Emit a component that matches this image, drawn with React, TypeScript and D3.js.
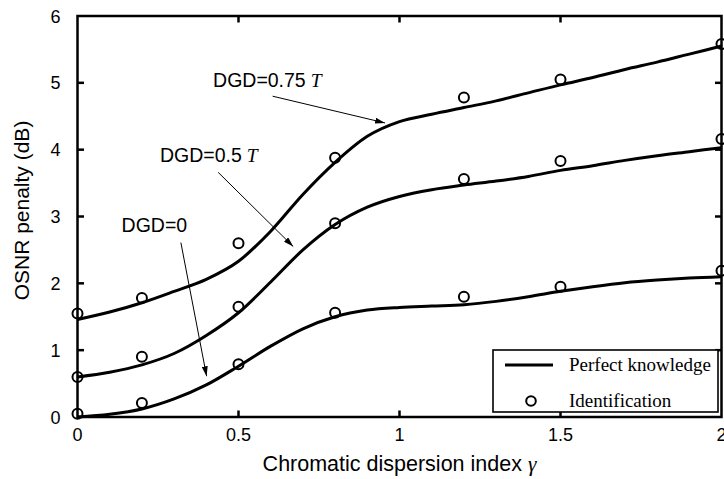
import React from "react";
import * as d3 from "d3";

const gridX = [0, 0.1, 0.2, 0.3, 0.4, 0.5, 0.6, 0.7, 0.8, 0.9, 1.0, 1.1, 1.2, 1.3, 1.4, 1.5, 1.6, 1.7, 1.8, 1.9, 2.0];
const perfectDGD0 = [0, 0.04, 0.12, 0.27, 0.48, 0.76, 1.06, 1.32, 1.5, 1.6, 1.64, 1.66, 1.68, 1.73, 1.8, 1.88, 1.95, 2.01, 2.05, 2.08, 2.1];
const perfectDGD05 = [0.6, 0.67, 0.78, 0.95, 1.22, 1.56, 2.02, 2.5, 2.88, 3.14, 3.3, 3.4, 3.47, 3.53, 3.6, 3.69, 3.76, 3.84, 3.91, 3.97, 4.03];
const perfectDGD075 = [1.46, 1.57, 1.71, 1.88, 2.06, 2.33, 2.78, 3.33, 3.81, 4.2, 4.42, 4.53, 4.63, 4.73, 4.85, 4.97, 5.08, 5.2, 5.31, 5.43, 5.55];

const idX = [0, 0.2, 0.5, 0.8, 1.2, 1.5, 2.0];
const idDGD0 = [0.05, 0.21, 0.79, 1.56, 1.8, 1.95, 2.19];
const idDGD05 = [0.6, 0.9, 1.65, 2.9, 3.56, 3.83, 4.16];
const idDGD075 = [1.55, 1.78, 2.6, 3.88, 4.78, 5.05, 5.58];

const xTicks = [0, 0.5, 1, 1.5, 2];
const xTickLabels = ["0", "0.5", "1", "1.5", "2"];
const yTicks = [0, 1, 2, 3, 4, 5, 6];

const annotations = [
  { label: "DGD=0.75", italic: "T", tx: 0.421, ty: 4.94, x1: 0.606, y1: 4.8, x2: 0.955, y2: 4.4 },
  { label: "DGD=0.5", italic: "T", tx: 0.256, ty: 3.82, x1: 0.437, y1: 3.66, x2: 0.67, y2: 2.55 },
  { label: "DGD=0", italic: "", tx: 0.137, ty: 2.77, x1: 0.321, y1: 2.61, x2: 0.401, y2: 0.61 },
];

const legendItems = ["Perfect knowledge", "Identification"];

const W = 724;
const H = 479;
const left = 77.5;
const right = 721.5;
const top = 16;
const bottom = 417;

export default function App() {
  const x = d3.scaleLinear().domain([0, 2]).range([left, right]);
  const y = d3.scaleLinear().domain([0, 6]).range([bottom, top]);
  const line = d3
    .line<number>()
    .x((_, i) => x(gridX[i]))
    .y((d) => y(d))
    .curve(d3.curveMonotoneX);

  const curves = [perfectDGD0, perfectDGD05, perfectDGD075];
  const ids = [idDGD0, idDGD05, idDGD075];
  const sans = "'Liberation Sans', Arial, sans-serif";
  const serif = "'Liberation Serif', 'Times New Roman', serif";
  const tickLen = 6.5;

  return (
    <svg width={W} height={H} style={{ position: "absolute", left: 0, top: 0, background: "#fff" }}>
      <defs>
        <marker id="ah" viewBox="0 0 10 6" refX="10" refY="3" markerWidth="10" markerHeight="6" markerUnits="userSpaceOnUse" orient="auto">
          <path d="M0,0 L10,3 L0,6 Z" fill="#000" />
        </marker>
      </defs>
      <rect x={0} y={0} width={W} height={H} fill="#fff" />

      {curves.map((c, k) => (
        <path key={k} d={line(c) || ""} fill="none" stroke="#000" strokeWidth={3} />
      ))}
      {ids.map((s, k) =>
        s.map((v, i) => (
          <circle key={k + "-" + i} cx={x(idX[i])} cy={y(v)} r={5} fill="none" stroke="#000" strokeWidth={2} />
        ))
      )}

      {annotations.map((a, i) => (
        <g key={i}>
          <line x1={x(a.x1)} y1={y(a.y1)} x2={x(a.x2)} y2={y(a.y2)} stroke="#000" strokeWidth={1} markerEnd="url(#ah)" />
          <text x={x(a.tx)} y={y(a.ty)} fontFamily={sans} fontSize={19.5} fill="#000">
            {a.label}
            {a.italic ? (
              <tspan fontFamily={serif} fontStyle="italic" dx={5}>
                {a.italic}
              </tspan>
            ) : null}
          </text>
        </g>
      ))}

      {/* frame */}
      <rect x={left} y={top} width={right - left} height={bottom - top} fill="none" stroke="#000" strokeWidth={2.5} />
      {xTicks.map((t, i) =>
        i > 0 && i < xTicks.length - 1 ? (
          <g key={"xt" + i}>
            <line x1={x(t)} x2={x(t)} y1={bottom} y2={bottom - tickLen} stroke="#000" strokeWidth={2.5} />
            <line x1={x(t)} x2={x(t)} y1={top} y2={top + tickLen} stroke="#000" strokeWidth={2.5} />
          </g>
        ) : null
      )}
      {yTicks.map((t, i) =>
        i > 0 && i < yTicks.length - 1 ? (
          <g key={"yt" + i}>
            <line x1={left} x2={left + tickLen} y1={y(t)} y2={y(t)} stroke="#000" strokeWidth={2.5} />
            <line x1={right} x2={right - tickLen} y1={y(t)} y2={y(t)} stroke="#000" strokeWidth={2.5} />
          </g>
        ) : null
      )}
      {xTicks.map((t, i) => (
        <text key={"xl" + i} x={x(t)} y={bottom + 24} textAnchor="middle" fontFamily={sans} fontSize={18} fill="#000">
          {xTickLabels[i]}
        </text>
      ))}
      {yTicks.map((t, i) => (
        <text key={"yl" + i} x={left - 17} y={y(t) + 6.5} textAnchor="end" fontFamily={sans} fontSize={18} fill="#000">
          {String(t)}
        </text>
      ))}

      <text x={(left + right) / 2} y={471} textAnchor="middle" fontFamily={sans} fontSize={21.5} fill="#000">
        Chromatic dispersion index <tspan fontFamily={serif} fontStyle="italic">γ</tspan>
      </text>
      <text transform={`translate(29,${(top + bottom) / 2 - 6}) rotate(-90)`} textAnchor="middle" fontFamily={sans} fontSize={21} fill="#000">
        OSNR penalty (dB)
      </text>

      {/* legend */}
      <g>
        <rect x={493} y={350} width={225} height={62} fill="#fff" stroke="#000" strokeWidth={1.6} />
        <line x1={505} x2={553} y1={365} y2={365} stroke="#000" strokeWidth={3} />
        <circle cx={531} cy={401} r={4.8} fill="none" stroke="#000" strokeWidth={2} />
        <text x={569} y={371} fontFamily={serif} fontSize={19} fill="#000">
          {legendItems[0]}
        </text>
        <text x={569} y={407} fontFamily={serif} fontSize={19} fill="#000">
          {legendItems[1]}
        </text>
      </g>
    </svg>
  );
}
